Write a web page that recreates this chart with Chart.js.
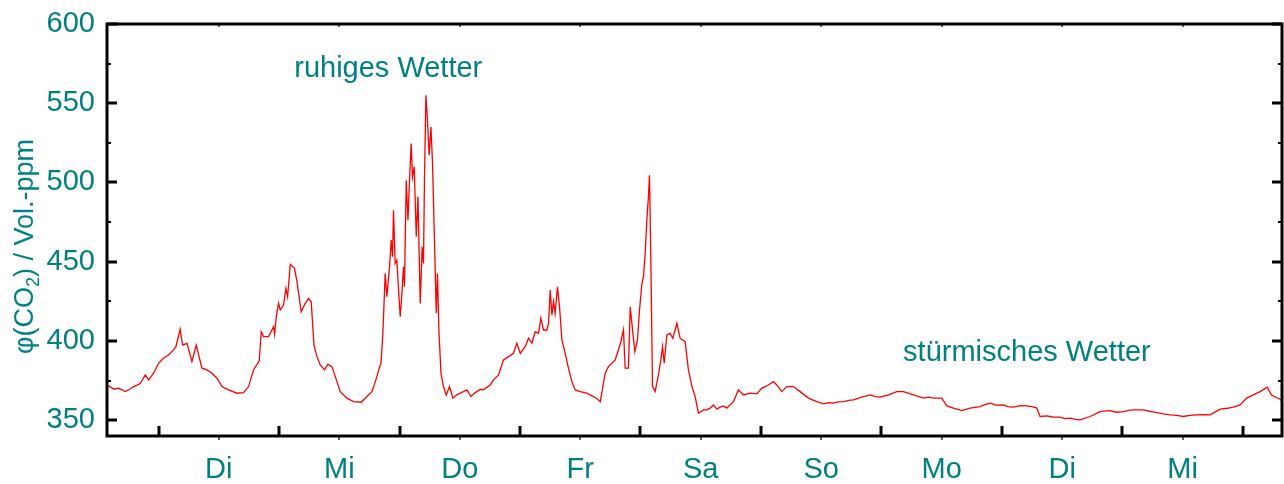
<!DOCTYPE html>
<html>
<head>
<meta charset="utf-8">
<script src="https://cdn.jsdelivr.net/npm/chart.js@4.4.1/dist/chart.umd.min.js"></script>
<style>
html,body{margin:0;padding:0;background:#ffffff;}
#wrap{width:1284px;height:484px;position:relative;}
</style>
</head>
<body>
<div id="wrap"><canvas id="c" width="1284" height="484"></canvas></div>
<script>
// ---- data (time in days from the start of the first "Di", CO2 in Vol.-ppm) ----
const dayNames = ['Di','Mi','Do','Fr','Sa','So','Mo','Di','Mi'];
const yTickValues = [350,400,450,500,550,600];
const yMinorValues = [375,425,475,525,575];
const xMajorValues = [0,1,2,3,4,5,6,7,8,9];
const xLabelValues = [0.5,1.5,2.5,3.5,4.5,5.5,6.5,7.5,8.5];
const timeDays = [
 -0.428,-0.415,-0.401,-0.370,-0.332,-0.300,-0.276,-0.240,-0.207,-0.180,
 -0.152,-0.110,-0.083,-0.041,0.000,0.041,0.083,0.124,0.144,0.161,
 0.180,0.199,0.236,0.277,0.313,0.360,0.402,0.443,0.485,0.526,
 0.581,0.651,0.705,0.747,0.788,0.836,0.852,0.871,0.913,0.927,
 0.954,0.963,0.977,0.996,1.010,1.037,1.057,1.071,1.093,1.129,
 1.149,1.184,1.217,1.245,1.267,1.290,1.315,1.342,1.378,1.406,
 1.439,1.481,1.508,1.563,1.618,1.682,1.729,1.771,1.804,1.832,
 1.846,1.862,1.881,
 1.895,1.917,1.931,
 1.942,1.950,1.964,1.978,1.992,2.006,2.020,2.033,2.041,2.056,2.070,2.083,2.097,2.108,2.122,2.139,2.153,
 2.172,2.188,2.199,2.207,2.219,2.232,2.246,2.261,2.274,2.288,2.305,2.315,2.327,2.344,2.365,2.388,2.415,
 2.443,2.475,2.504,2.530,2.559,2.593,2.620,2.642,2.670,2.697,2.753,2.780,2.822,2.863,2.905,2.946,2.974,
 3.002,3.043,3.071,3.099,3.126,3.154,3.173,3.195,3.223,3.237,3.251,3.265,3.278,3.292,3.311,3.328,3.348,
 3.375,3.402,3.431,3.458,3.500,3.555,3.580,3.610,3.640,3.666,3.688,3.707,3.734,3.763,3.790,3.817,3.837,
 3.859,3.873,3.900,3.915,3.937,3.954,3.975,3.992,4.012,4.025,4.039,4.053,4.066,4.075,4.086,4.100,4.122,
 4.149,4.169,4.183,4.197,4.219,4.246,4.269,4.302,4.329,4.371,4.398,4.427,4.454,4.481,4.523,4.551,4.578,
 4.606,4.635,4.661,4.690,4.717,4.772,4.813,4.855,4.910,4.966,5.008,5.062,5.104,5.132,5.173,5.215,5.270,
 5.325,5.394,5.464,5.519,5.560,5.602,5.640,5.685,5.730,5.768,5.837,5.906,5.950,5.989,6.058,6.128,6.183,
 6.266,6.349,6.390,6.432,6.501,6.543,6.598,6.667,6.736,6.819,6.860,6.902,6.950,7.012,7.050,7.095,7.150,
 7.207,7.250,7.290,7.317,7.373,7.420,7.483,7.520,7.566,7.610,7.649,7.732,7.815,7.898,7.950,8.008,8.050,
 8.091,8.174,8.230,8.285,8.340,8.396,8.450,8.506,8.560,8.617,8.670,8.728,8.811,8.870,8.921,8.977,9.032,
 9.087,9.143,9.203,9.237,9.309,9.325
];
const co2ppm = [
 372.0,371.6,371.0,369.5,370.2,369.0,368.0,369.5,371.2,372.0,
 373.3,378.5,375.4,379.6,385.9,389.1,391.1,394.3,396.4,401.7,
 407.3,397.4,398.5,387.0,397.4,382.8,381.7,379.6,376.5,371.2,
 369.1,367.0,367.4,371.2,381.7,387.4,405.8,402.7,402.7,404.8,
 409.0,404.2,415.3,423.7,419.5,422.6,433.2,427.9,448.3,445.8,
 437.3,418.4,423.7,426.9,424.7,397.4,390.1,384.8,381.7,385.3,
 383.8,374.3,368.0,363.9,361.7,361.3,364.9,368.0,375.4,382.8,
 385.9,404.8,442.6,
 427.9,446.8,463.6,
 453.1,482.5,448.9,451.0,432.1,415.3,430.0,446.8,434.2,501.4,476.2,501.4,524.5,503.5,509.8,465.7,490.9,
 423.7,459.4,448.9,501.4,555.0,539.2,517.2,535.0,512.0,469.9,417.4,442.6,406.9,379.6,371.2,365.9,371.2,
 363.9,366.0,367.0,368.0,369.1,364.9,367.0,368.0,369.5,369.1,372.2,375.4,378.5,388.0,390.1,392.2,398.5,
 392.2,396.4,401.7,398.5,405.8,404.8,414.3,406.9,406.9,411.1,432.1,416.4,424.8,417.4,434.2,421.6,400.6,
 392.2,382.8,374.3,369.1,368.0,367.0,366.0,364.9,363.5,361.7,371.2,379.6,383.8,385.9,388.0,394.3,399.5,
 406.9,382.8,382.8,421.6,404.8,393.2,400.6,419.5,436.3,440.5,455.2,476.2,490.9,504.6,451.0,371.2,368.0,
 378.5,388.0,396.4,385.9,403.8,404.8,401.7,411.1,401.7,399.5,381.7,371.2,364.9,354.4,356.5,356.5,357.6,
 359.6,357.0,358.2,359.0,357.6,361.7,369.1,365.9,367.0,366.6,370.2,372.2,374.3,372.2,368.0,371.2,371.2,
 368.0,363.9,361.7,360.3,361.0,360.7,361.5,361.7,362.5,362.8,364.5,365.9,364.8,364.5,365.9,368.0,368.0,
 365.9,363.9,364.5,363.9,363.9,359.0,357.6,356.0,357.6,358.6,359.8,360.7,359.5,359.6,358.5,358.2,359.2,
 359.0,358.5,357.6,352.3,352.7,352.0,351.9,351.0,351.3,350.5,350.2,352.3,355.4,356.0,355.0,355.4,356.2,
 356.5,356.5,355.5,354.8,354.0,353.3,353.0,352.3,353.0,353.3,353.5,353.3,356.9,357.5,358.2,359.6,363.9,
 365.9,368.0,370.8,365.9,363.2,362.0
];

const TEAL = '#008080';
const FONT = '"Liberation Sans", Arial, Helvetica, sans-serif';

const framePlugin = {
  id: 'frameAndTicks',
  afterDatasetsDraw(chart) {
    const ctx = chart.ctx, ca = chart.chartArea;
    const xs = chart.scales.x, ys = chart.scales.y;
    ctx.save();
    ctx.lineCap = 'butt';
    // minor ticks (half days, 25 ppm)
    ctx.lineWidth = 2;
    ctx.strokeStyle = '#666';
    xLabelValues.forEach(v => {
      const px = Math.round(xs.getPixelForValue(v));
      ctx.beginPath(); ctx.moveTo(px, ca.bottom + 1); ctx.lineTo(px, ca.bottom + 4); ctx.stroke();
      ctx.beginPath(); ctx.moveTo(px, ca.top - 1); ctx.lineTo(px, ca.top + 3); ctx.stroke();
    });
    ctx.strokeStyle = '#000';
    yMinorValues.forEach(v => {
      const py = Math.round(ys.getPixelForValue(v));
      ctx.beginPath(); ctx.moveTo(ca.left, py); ctx.lineTo(ca.left + 4, py); ctx.stroke();
      ctx.beginPath(); ctx.moveTo(ca.right, py); ctx.lineTo(ca.right - 4, py); ctx.stroke();
    });
    // major ticks
    ctx.lineWidth = 3;
    yTickValues.forEach(v => {
      const py = Math.round(ys.getPixelForValue(v));
      ctx.beginPath(); ctx.moveTo(ca.left, py); ctx.lineTo(ca.left + 10, py); ctx.stroke();
      ctx.beginPath(); ctx.moveTo(ca.right, py); ctx.lineTo(ca.right - 10, py); ctx.stroke();
    });
    xMajorValues.forEach(v => {
      const px = Math.round(xs.getPixelForValue(v));
      ctx.beginPath(); ctx.moveTo(px, ca.bottom); ctx.lineTo(px, ca.bottom - 10); ctx.stroke();
    });
    // frame
    ctx.strokeRect(ca.left, ca.top, ca.right - ca.left, ca.bottom - ca.top);
    // annotations
    ctx.fillStyle = TEAL;
    ctx.font = '29px ' + FONT;
    ctx.textAlign = 'left';
    ctx.textBaseline = 'alphabetic';
    ctx.fillText('ruhiges Wetter', xs.getPixelForValue(1.126), ys.getPixelForValue(566.3));
    ctx.fillText('stürmisches Wetter', xs.getPixelForValue(6.18), ys.getPixelForValue(387.4));
    // y axis title
    ctx.translate(33, 354);
    ctx.rotate(-Math.PI / 2);
    ctx.font = '27px ' + FONT;
    let x = 0;
    const p1 = 'φ(CO';
    ctx.fillText(p1, x, 0); x += ctx.measureText(p1).width;
    ctx.font = '18px ' + FONT;
    ctx.fillText('2', x, 6); x += ctx.measureText('2').width;
    ctx.font = '27px ' + FONT;
    ctx.fillText(') / Vol.-ppm', x, 0);
    ctx.restore();
  }
};

const points = timeDays.map((t, i) => ({x: t, y: co2ppm[i]}));

new Chart(document.getElementById('c'), {
  type: 'line',
  data: {
    datasets: [{
      data: points,
      borderColor: '#ff0000',
      borderWidth: 1.3,
      pointRadius: 0,
      tension: 0,
      fill: false
    }]
  },
  options: {
    responsive: false,
    animation: false,
    events: [],
    layout: {padding: {top: 24, right: 2, left: 0, bottom: 0}},
    plugins: {legend: {display: false}, tooltip: {enabled: false}, title: {display: false}},
    scales: {
      x: {
        type: 'linear',
        min: -0.428,
        max: 9.325,
        afterBuildTicks: s => { s.ticks = xLabelValues.map(v => ({value: v})); },
        afterFit: s => { s.height = 48; s.paddingLeft = 0; s.paddingRight = 0; },
        grid: {display: false, drawTicks: false},
        border: {display: false},
        ticks: {
          autoSkip: false, maxRotation: 0, minRotation: 0, padding: 17,
          color: TEAL, font: {family: FONT, size: 29},
          callback: (v) => { const k = Math.round(v - 0.5); return dayNames[k] || ''; }
        }
      },
      y: {
        type: 'linear',
        min: 340,
        max: 600,
        afterBuildTicks: s => { s.ticks = yTickValues.map(v => ({value: v})); },
        afterFit: s => { s.width = 107; s.paddingTop = 0; s.paddingBottom = 0; },
        grid: {display: false, drawTicks: false},
        border: {display: false},
        ticks: {padding: 12, color: TEAL, font: {family: FONT, size: 29}}
      }
    }
  },
  plugins: [framePlugin]
});
</script>
</body>
</html>
